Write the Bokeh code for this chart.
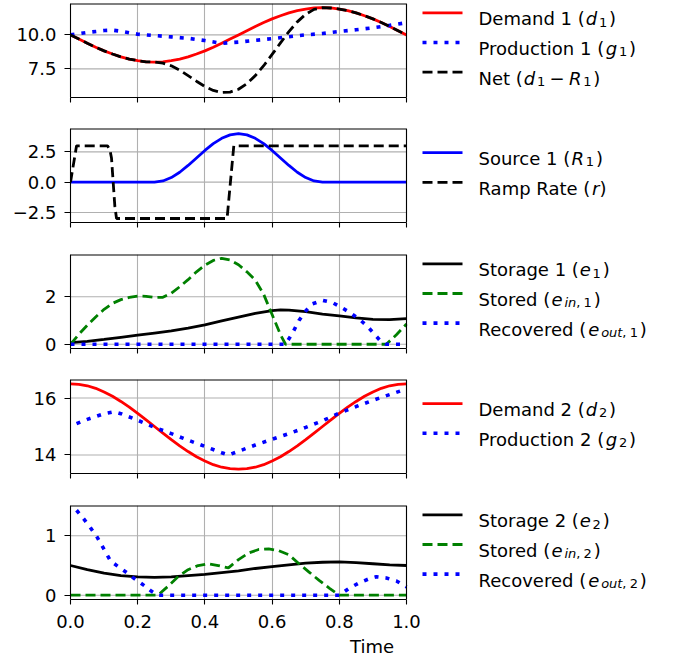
from bokeh.plotting import figure
from bokeh.models import Range1d, FixedTicker, CustomJSTickFormatter, ColumnDataSource, Span
from bokeh.layouts import column
from bokeh.embed import file_html
from bokeh.resources import INLINE
from bokeh.core.properties import value

# ---------------- data ----------------
t41 = [0.0, 0.025, 0.05, 0.075, 0.1, 0.125, 0.15, 0.175, 0.2, 0.225, 0.25,
       0.275, 0.3, 0.325, 0.35, 0.375, 0.4, 0.425, 0.45, 0.475, 0.5,
       0.525, 0.55, 0.575, 0.6, 0.625, 0.65, 0.675, 0.7, 0.725, 0.75,
       0.775, 0.8, 0.825, 0.85, 0.875, 0.9, 0.925, 0.95, 0.975, 1.0]

demand1 = [10.0, 9.69, 9.38, 9.09, 8.82, 8.59, 8.38, 8.22, 8.10, 8.02, 8.00,
           8.02, 8.10, 8.22, 8.38, 8.59, 8.82, 9.09, 9.38, 9.69, 10.0,
           10.31, 10.62, 10.91, 11.18, 11.41, 11.62, 11.78, 11.90, 11.98, 12.0,
           11.98, 11.90, 11.78, 11.62, 11.41, 11.18, 10.91, 10.62, 10.31, 10.0]
net1 = [10.0, 9.69, 9.38, 9.09, 8.82, 8.59, 8.38, 8.22, 8.10, 8.02, 8.00,
        7.92, 7.72, 7.40, 7.00, 6.59, 6.20, 5.91, 5.76, 5.79, 6.00,
        6.41, 7.00, 7.73, 8.56, 9.41, 10.24, 10.96, 11.52, 11.88, 12.0,
        11.98, 11.90, 11.78, 11.62, 11.41, 11.18, 10.91, 10.62, 10.31, 10.0]
source1 = [0, 0, 0, 0, 0, 0, 0, 0, 0, 0, 0,
           0.10, 0.38, 0.82, 1.38, 2.0, 2.62, 3.18, 3.62, 3.90, 4.0,
           3.90, 3.62, 3.18, 2.62, 2.0, 1.38, 0.82, 0.38, 0.10, 0,
           0, 0, 0, 0, 0, 0, 0, 0, 0, 0]
demand2 = [16.50, 16.48, 16.43, 16.34, 16.21, 16.06, 15.88, 15.68, 15.46, 15.23, 15.00,
           14.77, 14.54, 14.32, 14.12, 13.94, 13.79, 13.66, 13.57, 13.52, 13.50,
           13.52, 13.57, 13.66, 13.79, 13.94, 14.12, 14.32, 14.54, 14.77, 15.00,
           15.23, 15.46, 15.68, 15.88, 16.06, 16.21, 16.34, 16.43, 16.48, 16.50]

t_g1 = [0.0, 0.05, 0.1, 0.125, 0.15, 0.2, 0.25, 0.3, 0.35, 0.4, 0.45, 0.5,
        0.55, 0.6, 0.65, 0.7, 0.75, 0.8, 0.85, 0.9, 0.95, 1.0]
prod1 = [10.0, 10.18, 10.32, 10.35, 10.27, 10.05, 9.95, 9.85, 9.75, 9.58, 9.38, 9.47,
         9.6, 9.72, 9.86, 10.0, 10.1, 10.25, 10.38, 10.52, 10.7, 10.9]

t_r = [0.0, 0.018, 0.11, 0.117, 0.122, 0.127, 0.132, 0.137, 0.466, 0.486, 1.0]
ramp = [0.0, 3.0, 3.0, 2.7, 2.0, 0.0, -2.0, -3.0, -3.0, 3.0, 3.0]

t_e1 = [0.0, 0.05, 0.1, 0.15, 0.2, 0.25, 0.3, 0.35, 0.4, 0.45, 0.5, 0.55, 0.6,
        0.625, 0.65, 0.7, 0.75, 0.8, 0.85, 0.9, 0.95, 1.0]
storage1 = [0.07, 0.12, 0.2, 0.29, 0.38, 0.47, 0.56, 0.68, 0.82, 0.98, 1.14, 1.3, 1.42,
            1.45, 1.44, 1.37, 1.27, 1.19, 1.11, 1.05, 1.04, 1.08]

t_in1 = [0.0, 0.025, 0.05, 0.075, 0.1, 0.125, 0.15, 0.175, 0.2, 0.225, 0.25, 0.275,
         0.3, 0.325, 0.35, 0.375, 0.4, 0.425, 0.45, 0.475, 0.5, 0.525, 0.55, 0.575,
         0.6, 0.625, 0.64, 0.94, 0.97, 1.0]
stored1 = [0.0, 0.42, 0.8, 1.15, 1.47, 1.72, 1.88, 1.97, 2.03, 2.02, 1.97, 1.98,
           2.15, 2.42, 2.72, 3.05, 3.33, 3.53, 3.62, 3.55, 3.35, 3.05, 2.7, 2.1,
           1.25, 0.4, 0.0, 0.0, 0.4, 0.85]

t_out1 = [0.0, 0.64, 0.66, 0.68, 0.7, 0.72, 0.75, 0.78, 0.8, 0.83, 0.86, 0.88,
          0.9, 0.92, 0.94, 1.0]
recov1 = [0.0, 0.0, 0.45, 1.0, 1.4, 1.7, 1.85, 1.75, 1.6, 1.35, 1.05, 0.8,
          0.5, 0.18, 0.0, 0.0]

t_g2 = [0.018, 0.05, 0.1, 0.13, 0.15, 0.2, 0.25, 0.3, 0.35, 0.4, 0.45, 0.47, 0.5,
        0.55, 0.6, 0.65, 0.7, 0.75, 0.8, 0.85, 0.9, 0.95, 1.0]
prod2 = [15.1, 15.25, 15.45, 15.52, 15.45, 15.22, 14.97, 14.75, 14.52, 14.3, 14.08, 14.0, 14.13,
         14.35, 14.55, 14.75, 14.97, 15.2, 15.47, 15.7, 15.92, 16.12, 16.32]

t_e2 = [0.0, 0.05, 0.1, 0.15, 0.2, 0.25, 0.3, 0.35, 0.4, 0.45, 0.5, 0.55, 0.6,
        0.65, 0.7, 0.75, 0.8, 0.85, 0.9, 0.95, 1.0]
storage2 = [0.5, 0.43, 0.37, 0.33, 0.31, 0.3, 0.31, 0.33, 0.35, 0.38, 0.41, 0.45, 0.48,
            0.51, 0.54, 0.555, 0.56, 0.55, 0.53, 0.51, 0.5]

t_in2 = [0.0, 0.26, 0.29, 0.32, 0.35, 0.38, 0.41, 0.44, 0.47, 0.5, 0.53, 0.56, 0.59,
         0.62, 0.65, 0.68, 0.71, 0.74, 0.77, 0.8, 1.0]
stored2 = [0.0, 0.0, 0.15, 0.31, 0.43, 0.5, 0.53, 0.5, 0.46, 0.6, 0.71, 0.77, 0.78,
           0.75, 0.68, 0.53, 0.39, 0.25, 0.12, 0.0, 0.0]

t_out2 = [0.018, 0.04, 0.06, 0.08, 0.1, 0.12, 0.14, 0.17, 0.19, 0.22, 0.24, 0.26,
          0.8, 0.83, 0.86, 0.89, 0.91, 0.94, 0.97, 1.0]
recov2 = [1.43, 1.28, 1.13, 0.97, 0.77, 0.57, 0.49, 0.37, 0.28, 0.16, 0.07, 0.0,
          0.0, 0.12, 0.21, 0.28, 0.31, 0.29, 0.24, 0.14]

x_ticks = [0.0, 0.2, 0.4, 0.6, 0.8, 1.0]
y_ticks = [[7.5, 10.0], [-2.5, 0.0, 2.5], [0, 2], [14, 16], [0, 1]]
y_limits = [(5.39, 12.31), (-3.33, 4.43), (-0.18, 3.78), (13.35, 16.65), (-0.072, 1.51)]
x_limits = (0.0, 1.0)
x_label = "Time"

# ---------------- styles ----------------
RED, BLUE, BLACK, GREEN = "#ff0000", "#0000ff", "#000000", "#008000"
GRID = "#b0b0b0"
SOLID = dict(line_width=2.8)
DASHED = dict(line_width=2.8, line_dash="10 5")
DOTTED = dict(line_width=3.6, line_dash="4 7")
FONT = "DejaVu Sans"
FS = 18
SUBF = 0.72 * FS

ROW_H = [125, 126, 125, 126, 160]
TOP = 3
FRAME_H = 94
FRAME_L = 70
FRAME_W = 336          # width of the data area (x 0..1)
FIG_W = 673            # the frame extends to the right edge to host the legend

# series per panel: (x, y, color, style, label segments)
panels = [
    [(t41, demand1, RED, SOLID, [("Demand 1 (", "n"), ("d", "i"), ("1", "sn"), (")", "n")]),
     (t_g1, prod1, BLUE, DOTTED, [("Production 1 (", "n"), ("g", "i"), ("1", "sn"), (")", "n")]),
     (t41, net1, BLACK, DASHED, [("Net (", "n"), ("d", "i"), ("1", "sn"), ("\u2212", "op"),
                                 ("R", "i"), ("1", "sn"), (")", "n")])],
    [(t41, source1, BLUE, SOLID, [("Source 1 (", "n"), ("R", "i"), ("1", "sn"), (")", "n")]),
     (t_r, ramp, BLACK, DASHED, [("Ramp Rate (", "n"), ("r", "i"), (")", "n")])],
    [(t_e1, storage1, BLACK, SOLID, [("Storage 1 (", "n"), ("e", "i"), ("1", "sn"), (")", "n")]),
     (t_in1, stored1, GREEN, DASHED, [("Stored (", "n"), ("e", "i"), ("in", "si"), (",", "sc"),
                                      ("1", "sn"), (")", "n")]),
     (t_out1, recov1, BLUE, DOTTED, [("Recovered (", "n"), ("e", "i"), ("out", "si"), (",", "sc"),
                                     ("1", "sn"), (")", "n")])],
    [(t41, demand2, RED, SOLID, [("Demand 2 (", "n"), ("d", "i"), ("2", "sn"), (")", "n")]),
     (t_g2, prod2, BLUE, DOTTED, [("Production 2 (", "n"), ("g", "i"), ("2", "sn"), (")", "n")])],
    [(t_e2, storage2, BLACK, SOLID, [("Storage 2 (", "n"), ("e", "i"), ("2", "sn"), (")", "n")]),
     (t_in2, stored2, GREEN, DASHED, [("Stored (", "n"), ("e", "i"), ("in", "si"), (",", "sc"),
                                      ("2", "sn"), (")", "n")]),
     (t_out2, recov2, BLUE, DOTTED, [("Recovered (", "n"), ("e", "i"), ("out", "si"), (",", "sc"),
                                     ("2", "sn"), (")", "n")])],
]

# DejaVu Sans advance widths (em)
W = {' ': 0.318, '(': 0.390, ')': 0.390, ',': 0.318, '\u2212': 0.838,
     '0': 0.636, '1': 0.636, '2': 0.636,
     'D': 0.770, 'P': 0.603, 'N': 0.748, 'S': 0.635, 'R': 0.695,
     'a': 0.613, 'c': 0.550, 'd': 0.635, 'e': 0.615, 'g': 0.635, 'i': 0.278,
     'm': 0.974, 'n': 0.634, 'o': 0.612, 'p': 0.635, 'r': 0.411, 's': 0.521,
     't': 0.392, 'u': 0.634, 'v': 0.592, 'l': 0.278}


def tw(s, size):
    return sum(W.get(c, 0.6) for c in s) * size


def fmt(code):
    return CustomJSTickFormatter(code=code)


HANDLE_PX0, HANDLE_LEN, TEXT_PX0 = 422, 40, 478   # page pixels (legend layout)
ROW_STEP = 29.6
LEG_SHIFT = -8.0


def make_panel(k):
    h = ROW_H[k]
    last = (k == len(panels) - 1)
    lo, hi = y_limits[k]
    x0, x1 = x_limits
    xmax = x0 + (FIG_W - FRAME_L) / FRAME_W * (x1 - x0)
    p = figure(width=FIG_W, height=h, x_range=Range1d(x0, xmax), y_range=Range1d(lo, hi),
               output_backend="svg", toolbar_location=None,
               min_border_left=FRAME_L, min_border_right=0,
               min_border_top=TOP, min_border_bottom=h - TOP - FRAME_H)
    p.background_fill_color = "white"
    p.border_fill_color = "white"
    p.outline_line_color = None
    for ax in (p.xaxis[0], p.yaxis[0]):
        ax.axis_line_color = "black"
        ax.axis_line_width = 1.1
        ax.major_tick_line_color = "black"
        ax.major_tick_line_width = 1.1
        ax.major_tick_in = 0
        ax.minor_tick_line_color = None
        ax.major_label_text_font = FONT
        ax.major_label_text_font_size = f"{FS}px"
        ax.major_label_text_color = "black"
    p.xaxis[0].bounds = (x0, x1)
    p.xaxis[0].ticker = FixedTicker(ticks=x_ticks)
    p.xaxis[0].major_tick_out = 5
    p.yaxis[0].ticker = FixedTicker(ticks=y_ticks[k])
    p.yaxis[0].major_tick_out = 6
    p.yaxis[0].major_label_standoff = 8
    if k in (0, 1):
        p.yaxis[0].formatter = fmt("return (tick < 0 ? '\u2212' : '') + Math.abs(tick).toFixed(1);")
    else:
        p.yaxis[0].formatter = fmt("return (tick < 0 ? '\u2212' : '') + Math.abs(tick).toFixed(0);")
    if last:
        p.xaxis[0].formatter = fmt("return tick.toFixed(1);")
        p.xaxis[0].major_label_standoff = 10
        p.xaxis[0].axis_label = x_label
        p.xaxis[0].axis_label_text_font = FONT
        p.xaxis[0].axis_label_text_font_size = f"{FS}px"
        p.xaxis[0].axis_label_text_font_style = "normal"
        p.xaxis[0].axis_label_text_color = "black"
        p.xaxis[0].axis_label_standoff = 5
    else:
        p.xaxis[0].formatter = fmt("return '';")
        p.xaxis[0].major_label_standoff = 0
    # vertical grid from the x ticker (all ticks lie inside 0..1)
    p.xgrid[0].grid_line_color = GRID
    p.xgrid[0].grid_line_width = 1.1
    # horizontal grid limited to the data area
    p.ygrid[0].visible = False
    yt = y_ticks[k]
    p.segment(x0=[x0] * len(yt), x1=[x1] * len(yt), y0=yt, y1=yt,
              line_color=GRID, line_width=1.1, level="underlay")
    # box around the data area: top edge (half clipped -> double width) and right edge
    p.segment(x0=[x0], x1=[x1], y0=[hi], y1=[hi], line_color="black", line_width=2.2)
    p.add_layout(Span(location=x1, dimension="height", line_color="black", line_width=1.1))

    for xs, ys, col, sty, _ in panels[k]:
        p.line(x=xs, y=ys, line_color=col, **sty)

    # ---- legend in the right part of the frame ----
    def xd(px):  # page pixel -> x data
        return x0 + (px - FRAME_L) / FRAME_W * (x1 - x0)

    def yd(py):  # pixel offset from row top -> y data
        return hi - (py - TOP) / FRAME_H * (hi - lo)

    entries = panels[k]
    n = len(entries)
    center = TOP + FRAME_H / 2 + LEG_SHIFT
    groups = {g: dict(x=[], y=[], text=[]) for g in ("n", "i", "sn", "si")}
    for i, (_, _, col, sty, segs) in enumerate(entries):
        ly = center + (i - (n - 1) / 2) * ROW_STEP
        p.line(x=[xd(HANDLE_PX0), xd(HANDLE_PX0 + HANDLE_LEN)], y=[yd(ly), yd(ly)],
               line_color=col, **sty)
        base = ly + 6
        x = TEXT_PX0
        prev = None
        for txt, kind in segs:
            if kind == "op":
                x += 0.24 * FS
                g, yy, xs0 = "n", base, x
                x += tw(txt, FS) + 0.24 * FS
            elif kind in ("n", "i"):
                if kind == "n" and prev in ("sn", "si", "sc"):
                    x += 0.1 * FS
                if kind == "i" and prev == "n":
                    x += 0.05 * FS
                g, yy, xs0 = kind, base, x
                x += tw(txt, FS)
            else:
                if prev == "i":
                    x += 0.1 * FS
                g, yy, xs0 = ("si" if kind == "si" else "sn"), base + 3.2, x
                x += tw(txt, SUBF)
                if kind == "sc":
                    x += 0.25 * SUBF
            prev = kind
            groups[g]["x"].append(xd(xs0))
            groups[g]["y"].append(yd(yy))
            groups[g]["text"].append(txt)
    spec = {"n": (FS, "normal"), "i": (FS, "italic"), "sn": (SUBF, "normal"), "si": (SUBF, "italic")}
    for g, d in groups.items():
        if not d["x"]:
            continue
        size, style = spec[g]
        p.text(x="x", y="y", text="text", source=ColumnDataSource(d),
               text_font=value(FONT), text_font_size=value(f"{size:.1f}px"),
               text_font_style=style, text_color="black",
               text_align="left", text_baseline="alphabetic")
    return p


layout = column(*[make_panel(k) for k in range(len(panels))], spacing=0)

open("out.html", "w").write(file_html(layout, INLINE))
